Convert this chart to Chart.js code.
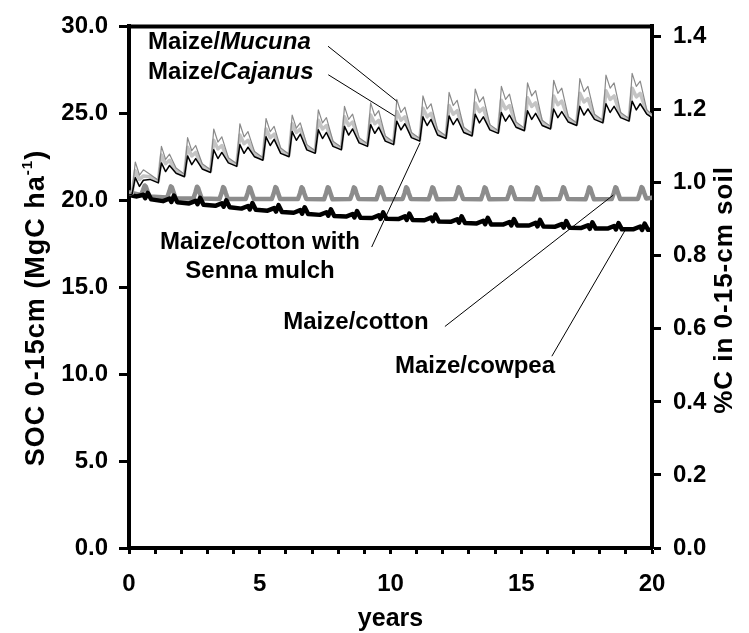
<!DOCTYPE html>
<html>
<head>
<meta charset="utf-8">
<script src="https://cdn.jsdelivr.net/npm/chart.js@4/dist/chart.umd.min.js"></script>
<style>
  html, body { margin: 0; padding: 0; background: #fff; }
</style>
</head>
<body>
<canvas id="socChart" width="749" height="633"></canvas>
<script>
// SOC (MgC/ha), one row per year
// thin series rows: [min before rise, peak, dip, second bump, late decay]
const thinPhase = [0.12, 0.24, 0.40, 0.55, 0.80];
const mucunaStart = 20.4, mucunaEnd = 24.95;
const mucuna = [
  [20.45, 22.2, 21.45, 21.75, 21.5], [21.15, 23.1, 22.35, 22.65, 21.85],
  [21.5, 23.6, 22.85, 23.15, 22.1], [21.75, 24.1, 23.35, 23.65, 22.45],
  [22.1, 24.4, 23.65, 23.95, 22.8], [22.45, 24.7, 23.95, 24.25, 23.0],
  [22.65, 24.9, 24.15, 24.45, 23.2], [22.85, 25.2, 24.45, 24.75, 23.4],
  [23.05, 25.4, 24.65, 24.95, 23.6], [23.25, 25.6, 24.85, 25.15, 23.7],
  [23.35, 25.8, 25.05, 25.35, 23.9], [23.55, 26.0, 25.25, 25.55, 24.05],
  [23.7, 26.2, 25.45, 25.75, 24.2], [23.85, 26.4, 25.65, 25.95, 24.35],
  [24.0, 26.55, 25.8, 26.1, 24.5], [24.15, 26.75, 26.0, 26.3, 24.6],
  [24.25, 26.9, 26.15, 26.45, 24.8], [24.45, 27.0, 26.25, 26.55, 24.95],
  [24.6, 27.2, 26.45, 26.75, 25.05], [24.7, 27.3, 26.55, 26.85, 25.2]
];
const cajanusStart = 20.35, cajanusEnd = 24.85;
const cajanus = [
  [20.4, 21.7, 21.2, 21.4, 21.35], [21.1, 22.6, 22.1, 22.3, 21.7],
  [21.45, 23.05, 22.55, 22.75, 21.95], [21.7, 23.45, 22.95, 23.15, 22.3],
  [22.05, 23.75, 23.25, 23.45, 22.65], [22.4, 24.1, 23.6, 23.8, 22.85],
  [22.6, 24.4, 23.9, 24.1, 23.05], [22.8, 24.6, 24.1, 24.3, 23.25],
  [23.0, 24.8, 24.3, 24.5, 23.45], [23.2, 24.9, 24.4, 24.6, 23.55],
  [23.3, 25.1, 24.6, 24.8, 23.75], [23.5, 25.3, 24.8, 25.0, 23.9],
  [23.65, 25.45, 24.95, 25.15, 24.05], [23.8, 25.6, 25.1, 25.3, 24.2],
  [23.95, 25.75, 25.25, 25.45, 24.35], [24.1, 25.9, 25.4, 25.6, 24.45],
  [24.2, 26.0, 25.5, 25.7, 24.65], [24.4, 26.15, 25.65, 25.85, 24.8],
  [24.55, 26.3, 25.8, 26.0, 24.9], [24.65, 26.45, 25.95, 26.15, 25.05]
];
const sennaStart = 20.3, sennaEnd = 24.75;
const senna = [
  [20.35, 21.3, 20.8, 21.15, 21.2], [21.0, 22.15, 21.65, 22.0, 21.55],
  [21.35, 22.55, 22.05, 22.4, 21.8], [21.6, 22.9, 22.4, 22.75, 22.15],
  [21.95, 23.2, 22.7, 23.05, 22.5], [22.3, 23.65, 23.15, 23.5, 22.7],
  [22.5, 23.95, 23.45, 23.8, 22.9], [22.7, 24.05, 23.55, 23.9, 23.1],
  [22.9, 24.25, 23.75, 24.1, 23.3], [23.1, 24.35, 23.85, 24.2, 23.4],
  [23.2, 24.55, 24.05, 24.4, 23.6], [23.4, 24.8, 24.3, 24.65, 23.75],
  [23.55, 24.85, 24.35, 24.7, 23.9], [23.7, 24.95, 24.45, 24.8, 24.05],
  [23.85, 25.05, 24.55, 24.9, 24.2], [24.0, 25.15, 24.65, 25.0, 24.3],
  [24.1, 25.25, 24.75, 25.1, 24.5], [24.3, 25.4, 24.9, 25.25, 24.65],
  [24.45, 25.55, 25.05, 25.4, 24.75], [24.55, 25.7, 25.2, 25.55, 24.95]
];
// maize/cotton rows: [base, rise, peak, top, shoulder, base]
const cottonPhase = [0.46, 0.54, 0.60, 0.64, 0.70, 0.78];
const cottonStart = 20.45, cottonEnd = 20.15;
const cotton = [
  [20.3, 20.6, 20.85, 20.8, 20.55, 20.22], [20.16, 20.5, 20.8, 20.75, 20.48, 20.12],
  [20.1, 20.45, 20.78, 20.72, 20.45, 20.1], [20.08, 20.42, 20.76, 20.7, 20.42, 20.08],
  [20.07, 20.42, 20.75, 20.7, 20.42, 20.07], [20.07, 20.42, 20.76, 20.7, 20.42, 20.07],
  [20.07, 20.41, 20.75, 20.69, 20.41, 20.07], [20.06, 20.42, 20.75, 20.7, 20.42, 20.06],
  [20.07, 20.41, 20.74, 20.69, 20.41, 20.07], [20.06, 20.42, 20.75, 20.7, 20.42, 20.06],
  [20.07, 20.41, 20.75, 20.69, 20.41, 20.07], [20.06, 20.42, 20.74, 20.7, 20.42, 20.06],
  [20.07, 20.41, 20.75, 20.69, 20.41, 20.07], [20.06, 20.41, 20.74, 20.69, 20.41, 20.06],
  [20.07, 20.42, 20.75, 20.7, 20.42, 20.07], [20.06, 20.41, 20.74, 20.69, 20.41, 20.06],
  [20.07, 20.42, 20.75, 20.7, 20.42, 20.07], [20.06, 20.41, 20.74, 20.69, 20.41, 20.06],
  [20.07, 20.42, 20.75, 20.7, 20.42, 20.07], [20.08, 20.43, 20.76, 20.7, 20.43, 20.1]
];
// maize/cowpea rows: [trend, zig, dip, peak, after]
const cowpeaPhase = [0.30, 0.55, 0.62, 0.72, 0.85];
const cowpeaStart = 20.3, cowpeaEnd = 18.3;
const cowpea = [
  [20.22, 20.32, 20.12, 20.42, 20.05], [19.95, 20.1, 19.9, 20.27, 19.88],
  [19.82, 19.97, 19.77, 20.14, 19.74], [19.68, 19.83, 19.63, 20.0, 19.6],
  [19.52, 19.67, 19.47, 19.84, 19.45], [19.4, 19.55, 19.35, 19.72, 19.33],
  [19.28, 19.43, 19.23, 19.6, 19.21], [19.16, 19.31, 19.11, 19.48, 19.1],
  [19.06, 19.21, 19.01, 19.38, 19.0], [18.98, 19.13, 18.93, 19.3, 18.93],
  [18.92, 19.07, 18.87, 19.24, 18.86], [18.85, 19.0, 18.8, 19.17, 18.78],
  [18.76, 18.91, 18.71, 19.08, 18.69], [18.67, 18.82, 18.62, 18.99, 18.61],
  [18.6, 18.75, 18.55, 18.92, 18.55], [18.55, 18.7, 18.5, 18.87, 18.49],
  [18.48, 18.63, 18.43, 18.8, 18.42], [18.41, 18.56, 18.36, 18.73, 18.37],
  [18.37, 18.52, 18.32, 18.69, 18.33], [18.34, 18.49, 18.29, 18.66, 18.3]
];

const yearMax = 20;
const socMax = 30, socStep = 5;
const pctMax = 1.428, pctStep = 0.2;

// labels in data units: [x year, y SOC]
const notes = [
  { lines: [['Maize/', ''], ['Mucuna', 'italic ']], at: [0.73, 28.69], align: 'left', from: [7.61, 28.86], to: [10.24, 25.7] },
  { lines: [['Maize/', ''], ['Cajanus', 'italic ']], at: [0.73, 26.97], align: 'left', from: [7.62, 27.22], to: [10.17, 24.84] },
  { text: ['Maize/cotton with', 'Senna mulch'], at: [5.01, 17.18], align: 'center', from: [9.28, 17.31], to: [11.13, 23.31] },
  { text: ['Maize/cotton'], at: [5.9, 12.57], align: 'left', from: [12.08, 12.74], to: [18.52, 20.3] },
  { text: ['Maize/cowpea'], at: [10.17, 10.06], align: 'left', from: [16.17, 11.03], to: [18.97, 18.27] }
];

const FONT = '"Liberation Sans", Arial, Helvetica, sans-serif';

function buildSeries(start, rows, phase, end) {
  const pts = [{ x: 0, y: start }];
  rows.forEach((r, yr) => r.forEach((v, k) => pts.push({ x: yr + phase[k], y: v })));
  pts.push({ x: yearMax, y: end });
  return pts;
}

const framePlugin = {
  id: 'frameAndNotes',
  afterDraw(chart) {
    const { ctx, chartArea: a, scales } = chart;
    const sx = scales.x, sy = scales.y;
    ctx.save();
    // top frame line
    ctx.strokeStyle = '#000';
    ctx.lineWidth = 4;
    ctx.beginPath();
    ctx.moveTo(a.left - 2, a.top);
    ctx.lineTo(a.right + 2, a.top);
    ctx.stroke();

    ctx.fillStyle = '#000';
    ctx.textBaseline = 'alphabetic';
    // left axis title with superscript
    ctx.save();
    ctx.translate(35, 308);
    ctx.rotate(-Math.PI / 2);
    ctx.letterSpacing = '1px';
    const big = 'bold 27px ' + FONT, small = 'bold 15px ' + FONT;
    ctx.font = big;
    const p1 = 'SOC 0-15cm (MgC ha', p3 = ')';
    const w1 = ctx.measureText(p1).width, w3 = ctx.measureText(p3).width;
    ctx.font = small;
    const w2 = ctx.measureText('-1').width;
    let x0 = -(w1 + w2 + w3) / 2;
    ctx.font = big; ctx.fillText(p1, x0, 9);
    ctx.font = small; ctx.fillText('-1', x0 + w1, -3);
    ctx.font = big; ctx.fillText(p3, x0 + w1 + w2, 9);
    ctx.restore();

    // right axis title
    ctx.save();
    ctx.translate(723, 290);
    ctx.rotate(-Math.PI / 2);
    ctx.letterSpacing = '1px';
    ctx.font = 'bold 26px ' + FONT;
    ctx.textAlign = 'center';
    ctx.fillText('%C in 0-15-cm soil', 0, 9);
    ctx.restore();

    // x axis title
    ctx.font = 'bold 25px ' + FONT;
    ctx.textAlign = 'center';
    ctx.fillText('years', (a.left + a.right) / 2, 626);

    // series labels + leader lines
    ctx.lineWidth = 1;
    notes.forEach(n => {
      const px = sx.getPixelForValue(n.at[0]);
      const py = sy.getPixelForValue(n.at[1]);
      if (n.lines) {
        let cx = px;
        ctx.textAlign = 'left';
        n.lines.forEach(([t, style]) => {
          ctx.font = style + 'bold 24px ' + FONT;
          ctx.fillText(t, cx, py);
          cx += ctx.measureText(t).width;
        });
      } else {
        ctx.font = 'bold 24px ' + FONT;
        ctx.textAlign = n.align;
        n.text.forEach((t, i) => ctx.fillText(t, px, py + i * 29));
      }
      ctx.beginPath();
      ctx.moveTo(sx.getPixelForValue(n.from[0]), sy.getPixelForValue(n.from[1]));
      ctx.lineTo(sx.getPixelForValue(n.to[0]), sy.getPixelForValue(n.to[1]));
      ctx.stroke();
    });
    ctx.restore();
  }
};

const tickFont = { family: FONT, size: 24, weight: 'bold' };

new Chart(document.getElementById('socChart'), {
  type: 'line',
  data: {
    datasets: [
      { label: 'Maize/cotton with Senna mulch', data: buildSeries(sennaStart, senna, thinPhase, sennaEnd), borderColor: '#000', borderWidth: 1.5, yAxisID: 'y' },
      { label: 'Maize/Mucuna', data: buildSeries(mucunaStart, mucuna, thinPhase, mucunaEnd), borderColor: '#8a8a8a', borderWidth: 1.2, yAxisID: 'y' },
      { label: 'Maize/Cajanus', data: buildSeries(cajanusStart, cajanus, thinPhase, cajanusEnd), borderColor: '#c4c4c4', borderWidth: 3.5, yAxisID: 'y' },
      { label: 'Maize/cowpea', data: buildSeries(cowpeaStart, cowpea, cowpeaPhase, cowpeaEnd), borderColor: '#000', borderWidth: 4.5, yAxisID: 'y' },
      { label: 'Maize/cotton', data: buildSeries(cottonStart, cotton, cottonPhase, cottonEnd), borderColor: '#8c8c8c', borderWidth: 4.5, yAxisID: 'y' }
    ]
  },
  options: {
    responsive: false,
    animation: false,
    elements: { point: { radius: 0 }, line: { tension: 0, borderJoinStyle: 'round', borderCapStyle: 'round' } },
    layout: { autoPadding: false, padding: { top: 23, left: 0, right: 0, bottom: 0 } },
    plugins: { legend: { display: false }, tooltip: { enabled: false } },
    scales: {
      x: {
        type: 'linear', position: 'bottom', min: 0, max: yearMax,
        ticks: { stepSize: 1, autoSkip: false, maxRotation: 0, color: '#000', font: tickFont, padding: 16,
          callback: v => (v % 5 === 0 ? String(v) : '') },
        grid: { drawOnChartArea: false, drawTicks: true, tickLength: 6, tickWidth: 3, tickColor: '#000' },
        border: { display: true, width: 4, color: '#000' },
        afterFit: s => { s.height = 85; }
      },
      y: {
        position: 'left', min: 0, max: socMax,
        ticks: { stepSize: socStep, color: '#000', font: tickFont, padding: 11, callback: v => v.toFixed(1) },
        grid: { drawOnChartArea: false, drawTicks: true, tickLength: 10, tickWidth: 3, tickColor: '#000' },
        border: { display: true, width: 4, color: '#000' },
        afterFit: s => { s.width = 129; }
      },
      y2: {
        position: 'right', min: 0, max: pctMax,
        ticks: { stepSize: pctStep, includeBounds: false, color: '#000', font: tickFont, padding: 12, callback: v => v.toFixed(1) },
        grid: { drawOnChartArea: false, drawTicks: true, tickLength: 9, tickWidth: 3, tickColor: '#000' },
        border: { display: true, width: 4, color: '#000' },
        afterFit: s => { s.width = 97; }
      }
    }
  },
  plugins: [framePlugin]
});
</script>
</body>
</html>
